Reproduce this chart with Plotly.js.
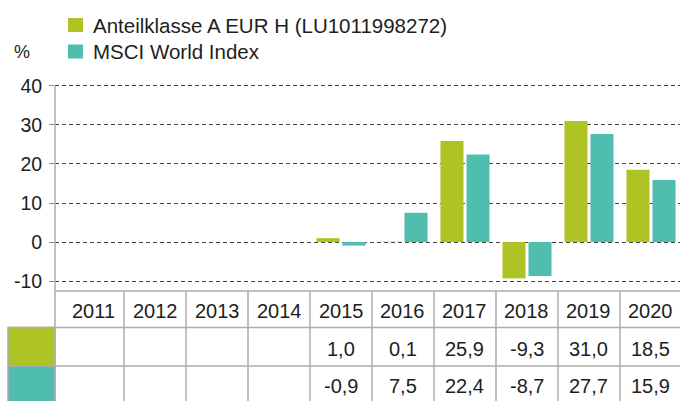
<!DOCTYPE html>
<html><head><meta charset="utf-8">
<script src="https://cdn.plot.ly/plotly-3.0.1.min.js"></script>
<style>html,body{margin:0;padding:0;background:#fff}#chart{width:680px;height:401px}</style>
</head><body><div id="chart"></div>
<script>
const years = ['2011','2012','2013','2014','2015','2016','2017','2018','2019','2020'];
const fundValues = [null,null,null,null,1.0,0.1,25.9,-9.3,31.0,18.5];
const indexValues = [null,null,null,null,-0.9,7.5,22.4,-8.7,27.7,15.9];
const seriesNames = ['Anteilklasse A EUR H (LU1011998272)','MSCI World Index'];
const seriesColors = ['#b0c324','#4fbeaf'];
const yTickVals = [-10,0,10,20,30,40];
const yUnit = '%';

const W=680,H=401,ML=55,MR=0,MT=82,MB=116;
const PW=W-ML-MR, PH=H-MT-MB;
const px2x = p => (p-ML)/PW;
const py2y = p => (H-MB-p)/PH;
const FONT = 'Liberation Sans, Arial, sans-serif';
const FS = 20;
const TXT = '#1e1e1e';
const LINE = '#adadad';
const fmt = v => (v===null||v===undefined) ? '' : v.toFixed(1).replace('.',',');

const traces = [fundValues, indexValues].map((vals,i)=>({
  type:'bar', x:years, y:vals, name:seriesNames[i],
  marker:{color:seriesColors[i]}, showlegend:false, hoverinfo:'skip'
}));

const shapes = [];
const annotations = [];

// legend
seriesNames.forEach((n,i)=>{
  const cy = 25 + i*26.5;
  shapes.push({type:'rect', xref:'paper', yref:'paper', x0:px2x(68), x1:px2x(83), y0:py2y(cy-7), y1:py2y(cy+7), fillcolor:seriesColors[i], line:{width:0}});
  annotations.push({xref:'paper', yref:'paper', x:px2x(91), y:py2y(cy), xanchor:'left', yanchor:'middle', text:n, showarrow:false, font:{family:FONT,size:20.5,color:TXT}});
});
annotations.push({xref:'paper', yref:'paper', x:px2x(12), y:py2y(52), xanchor:'left', yanchor:'middle', text:yUnit, showarrow:false, font:{family:FONT,size:18,color:TXT}});

// y axis line + table left border
shapes.push({type:'line', xref:'paper', yref:'paper', x0:0, x1:0, y0:py2y(86), y1:py2y(402), line:{color:LINE,width:1.5}});
// table horizontal lines
const rowTop=291, row2=327.5, row3=366;
shapes.push({type:'line', xref:'paper', yref:'paper', x0:0, x1:1, y0:py2y(rowTop), y1:py2y(rowTop), line:{color:LINE,width:1.5}});
[row2,row3].forEach(r=>shapes.push({type:'line', xref:'paper', yref:'paper', x0:px2x(8), x1:1, y0:py2y(r), y1:py2y(r), line:{color:LINE,width:1.5}}));
// vertical column lines
for(let i=1;i<years.length;i++){
  shapes.push({type:'line', xref:'x', yref:'paper', x0:i-0.5, x1:i-0.5, y0:py2y(rowTop), y1:py2y(402), line:{color:LINE,width:1.5}});
}
// legend colour cells in table
[[row2,row3],[row3,402]].forEach((r,i)=>{
  shapes.push({type:'rect', xref:'paper', yref:'paper', x0:px2x(8), x1:0, y0:py2y(r[0]), y1:py2y(r[1]), fillcolor:seriesColors[i], line:{color:LINE,width:1.5}});
});
// table text
years.forEach((yr,i)=>{
  annotations.push({xref:'x', yref:'paper', x:i, y:py2y(311), text:yr, showarrow:false, xanchor:'center', yanchor:'middle', font:{family:FONT,size:FS,color:TXT}});
  const a=fmt(fundValues[i]), b=fmt(indexValues[i]);
  if(a) annotations.push({xref:'x', yref:'paper', x:i, y:py2y(348.5), text:a, showarrow:false, xanchor:'center', yanchor:'middle', font:{family:FONT,size:FS,color:TXT}});
  if(b) annotations.push({xref:'x', yref:'paper', x:i, y:py2y(386), text:b, showarrow:false, xanchor:'center', yanchor:'middle', font:{family:FONT,size:FS,color:TXT}});
});

const layout = {
  width:W, height:H, margin:{l:ML,r:MR,t:MT,b:MB,pad:0},
  paper_bgcolor:'#fff', plot_bgcolor:'#fff',
  barmode:'group', bargap:0.161, bargroupgap:0.115,
  xaxis:{type:'category', categoryarray:years, range:[-0.613,9.468], showticklabels:false, showgrid:false, zeroline:false, showline:false, ticks:'', fixedrange:true},
  yaxis:{range:[-11,41], tickvals:yTickVals, ticktext:yTickVals.map(String), showgrid:true, gridcolor:'#444', gridwidth:1, griddash:'4px,3px', zeroline:false, showline:false, ticks:'outside', ticklen:5, tickcolor:'#888', tickwidth:1, ticklabelstandoff:3, tickfont:{family:FONT,size:19.5,color:TXT}, fixedrange:true},
  shapes:shapes, annotations:annotations, showlegend:false
};
Plotly.newPlot('chart', traces, layout, {displayModeBar:false, staticPlot:true});
</script></body></html>
